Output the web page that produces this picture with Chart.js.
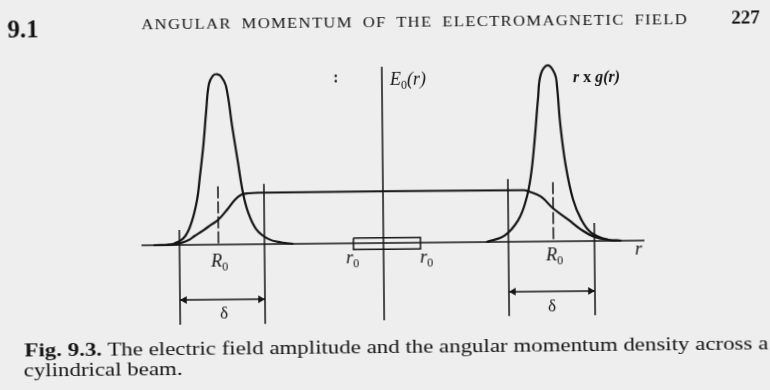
<!DOCTYPE html>
<html>
<head>
<meta charset="utf-8">
<script src="https://cdn.jsdelivr.net/npm/chart.js@4.4.0/dist/chart.umd.min.js"></script>
<style>
	body { margin: 0; background: #eeeeee; overflow: hidden; }
	#page { position: relative; width: 770px; height: 390px; font-family: "Liberation Serif", serif; color: #151515; transform: rotate(-0.55deg); transform-origin: 385px 195px; }
	#fig { position: absolute; left: 0; top: 0; }
	.t { position: absolute; white-space: nowrap; line-height: 1; transform-origin: 0 0; }
	#sec { left: 9px; top: 13px; font-size: 25px; font-weight: bold; }
	#title { left: 143px; top: 15px; font-size: 15px; letter-spacing: 1.2px; word-spacing: 4px; }
	#pg { left: 733px; top: 11px; font-size: 19px; font-weight: bold; }
	#cap1 { left: 23px; top: 337px; font-size: 19.5px; }
	#cap2 { left: 22px; top: 357px; font-size: 19.5px; }
</style>
</head>
<body>
<div id="page">
	<canvas id="fig" width="770" height="390"></canvas>
	<div class="t" id="sec">9.1</div>
	<div class="t" id="title">ANGULAR MOMENTUM OF THE ELECTROMAGNETIC FIELD</div>
	<div class="t" id="pg">227</div>
	<div class="t" id="cap1"><b>Fig. 9.3.</b> The electric field amplitude and the angular momentum density across a</div>
	<div class="t" id="cap2">cylindrical beam.</div>
</div>
<script>
// values: r across the beam, heights in units of the E0 plateau
const fieldR = [-23.0, -21.0, -20.4, -19.5, -18.9, -18.0, -17.2, -16.5, -15.5, -14.8, -14.2, -13.5, -12.5, 14.1, 14.5, 15.8, 17.0, 18.5, 19.8, 21.1, 22.5, 23.8];
const fieldV = [0, 0.01, 0.03, 0.09, 0.17, 0.28, 0.39, 0.48, 0.70, 0.87, 0.96, 0.99, 1.0, 1.0, 0.98, 0.87, 0.64, 0.42, 0.22, 0.08, 0.02, 0];

const momLeftR = [-21.8, -20.9, -19.9, -19.2, -18.6, -18.3, -17.9, -17.6, -17.3, -16.9, -16.5, -16.1, -15.6, -15.0, -14.5, -14.0, -13.5, -12.7, -11.5, -10.2, -9.0];
const momLeftV = [0, 0.03, 0.15, 0.42, 0.87, 1.31, 1.96, 2.60, 3.12, 3.28, 3.31, 3.27, 3.08, 2.27, 1.63, 1.00, 0.62, 0.29, 0.10, 0.03, 0];

const momRightR = [10.3, 12.1, 13.5, 14.3, 14.8, 15.2, 15.6, 15.9, 16.6, 17.3, 17.5, 17.8, 18.3, 19.0, 19.8, 20.8, 22.5, 23.8];
const momRightV = [0, 0.12, 0.42, 0.81, 1.27, 1.94, 2.79, 3.25, 3.42, 3.25, 3.02, 2.26, 1.47, 0.81, 0.42, 0.16, 0.02, 0];

const rAxisR = [-24.2, 26.1];
const eAxisV = [3.42, -1.50];

const guideR = [-20.4, -11.9, 12.5, 21.1];
const guideTop = [0.29, 1.17, 1.22, 0.35];
const guideBottom = [-1.55, -1.55, -1.44, -1.44];

const peakR = [-16.5, 17.0];
const peakTop = [1.13, 1.15];

const deltaV = [-1.07, -0.97];

const coreR = [-3.0, 3.7];
const coreV = [0.10, -0.12];

const ink = '#151515';
const serif = '"Liberation Serif", serif';

function pts(r, v) {
	return r.map((x, i) => ({ x: x, y: v[i] }));
}

function line(data, extra) {
	return Object.assign({
		data: data,
		showLine: true,
		borderColor: ink,
		backgroundColor: ink,
		borderWidth: 1.5,
		pointRadius: 0,
		tension: 0,
	}, extra || {});
}

const curve = { borderWidth: 2.2, tension: 0.4 };

const datasets = [
	line(pts(rAxisR, [0, 0])),
	line(pts([0, 0], eAxisV)),
	line(pts(fieldR, fieldV), curve),
	line(pts(momLeftR, momLeftV), curve),
	line(pts(momRightR, momRightV), curve),
	line(pts([coreR[0], coreR[1], coreR[1], coreR[0], coreR[0]], [coreV[0], coreV[0], coreV[1], coreV[1], coreV[0]])),
];

guideR.forEach((r, i) => {
	datasets.push(line(pts([r, r], [guideTop[i], guideBottom[i]])));
});

peakR.forEach((r, i) => {
	datasets.push(line(pts([r, r], [peakTop[i], 0]), { borderDash: [12, 3] }));
});

deltaV.forEach((v, i) => {
	const a = guideR[i * 2], b = guideR[i * 2 + 1];
	datasets.push(line(pts([a, a + 0.45, b - 0.45, b], [v, v, v, v]), {
		pointRadius: [0, 4.5, 4.5, 0],
		pointStyle: 'triangle',
		pointRotation: [0, -90, 90, 0],
		pointBorderWidth: 0,
	}));
});

// text inside the figure, placed in data units
const figLabels = [
	{ r: -16.4, v: -0.43, align: 'center', runs: [['R', 'i'], ['0', 's']] },
	{ r: 17.1, v: -0.37, align: 'center', runs: [['R', 'i'], ['0', 's']] },
	{ r: -3.1, v: -0.39, align: 'center', runs: [['r', 'i'], ['0', 's']] },
	{ r: 4.3, v: -0.39, align: 'center', runs: [['r', 'i'], ['0', 's']] },
	{ r: 25.5, v: -0.27, align: 'center', runs: [['r', 'i']] },
	{ r: -16.0, v: -1.44, align: 'center', runs: [['δ', 'n']] },
	{ r: 16.8, v: -1.36, align: 'center', runs: [['δ', 'n']] },
	{ r: 0.8, v: 3.07, align: 'left', runs: [['E', 'i'], ['0', 's'], ['(r)', 'i']] },
	{ r: 19.1, v: 3.09, align: 'left', runs: [['r', 'bi'], [' x ', 'b'], ['g(r)', 'bi']] },
	{ r: -4.6, v: 3.13, align: 'center', runs: [[':', 'b']] },
];

const runFonts = {
	i: 'italic 18px ' + serif,
	bi: 'italic bold 16px ' + serif,
	b: 'bold 16px ' + serif,
	n: '17px ' + serif,
	s: '12px ' + serif,
};

const labelPlugin = {
	id: 'figLabels',
	afterDatasetsDraw(chart) {
		const ctx = chart.ctx;
		const xs = chart.scales.x, ys = chart.scales.y;
		ctx.save();
		ctx.fillStyle = ink;
		ctx.textBaseline = 'alphabetic';
		ctx.textAlign = 'left';
		figLabels.forEach(l => {
			let w = 0;
			l.runs.forEach(run => { ctx.font = runFonts[run[1]]; w += ctx.measureText(run[0]).width; });
			let px = xs.getPixelForValue(l.r);
			const py = ys.getPixelForValue(l.v);
			if (l.align === 'center') px -= w / 2;
			l.runs.forEach(run => {
				ctx.font = runFonts[run[1]];
				ctx.fillText(run[0], px, py + (run[1] === 's' ? 4 : 0));
				px += ctx.measureText(run[0]).width;
			});
		});
		ctx.restore();
	}
};

new Chart(document.getElementById('fig').getContext('2d'), {
	type: 'scatter',
	data: { datasets: datasets },
	options: {
		responsive: false,
		animation: false,
		layout: { padding: 0 },
		plugins: { legend: { display: false }, tooltip: { enabled: false } },
		scales: {
			x: { type: 'linear', display: false, min: -38.3, max: 38.7 },
			y: { type: 'linear', display: false, min: -2.8544, max: 4.7184 },
		},
	},
	plugins: [labelPlugin],
});

// stretch the printed lines to the widths they have on the page
function stretch(ids, w) {
	const natural = document.getElementById(ids[0]).getBoundingClientRect().width;
	ids.forEach(id => { document.getElementById(id).style.transform = 'scaleX(' + (w / natural) + ')'; });
}
stretch(['title'], 547);
stretch(['cap1', 'cap2'], 744);
</script>
</body>
</html>
